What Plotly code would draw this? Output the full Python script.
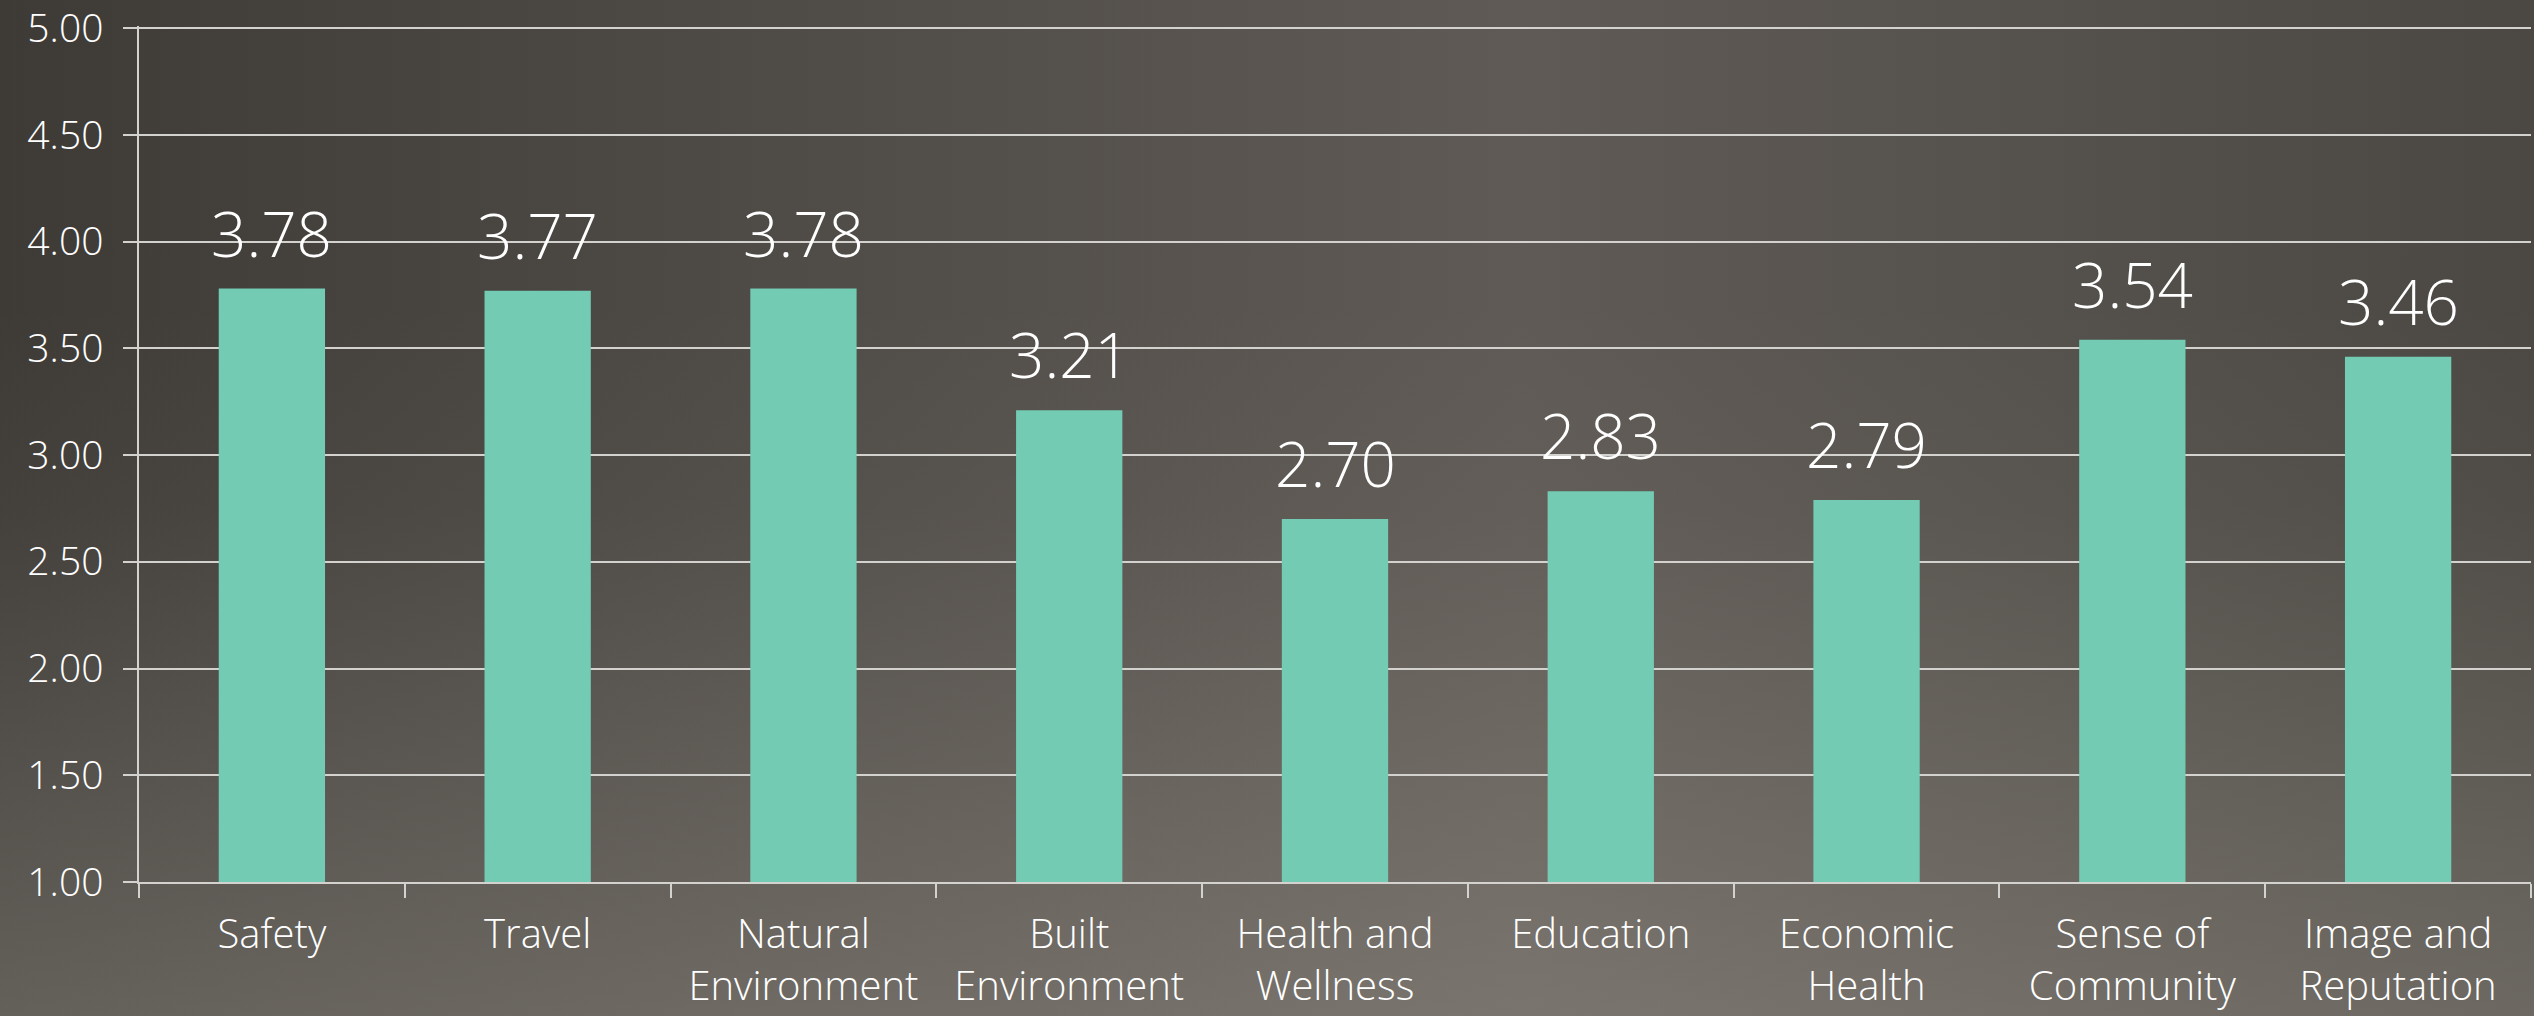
import plotly.graph_objects as go
import urllib.parse

categories = ["Safety", "Travel", "Natural<br>Environment", "Built<br>Environment",
              "Health and<br>Wellness", "Education", "Economic<br>Health",
              "Sense of<br>Community", "Image and<br>Reputation"]
scores = [3.78, 3.77, 3.78, 3.21, 2.70, 2.83, 2.79, 3.54, 3.46]
y_ticks = [1.0, 1.5, 2.0, 2.5, 3.0, 3.5, 4.0, 4.5, 5.0]

W, H = 2534, 1016
ML, MR, MT, MB = 139, 3, 26, 134
PW = W - ML - MR
PH = H - MT - MB

FONT = "Open Sans"
TXT = "#ffffff"
BAR = "#72cbb2"
GRID = "#d4d2cf"

svg = (
    '<svg xmlns="http://www.w3.org/2000/svg" width="2534" height="1016" '
    'viewBox="0 0 2534 1016" preserveAspectRatio="none">'
    '<defs>'
    '<linearGradient id="h" x1="0" y1="0" x2="1" y2="0">'
    '<stop offset="0" stop-color="#3e3b37"/>'
    '<stop offset="0.6" stop-color="#5f5a55"/>'
    '<stop offset="1" stop-color="#4b4843"/>'
    '</linearGradient>'
    '<linearGradient id="v" x1="0" y1="0" x2="0" y2="1">'
    '<stop offset="0" stop-color="#b0aaa0" stop-opacity="0"/>'
    '<stop offset="0.3" stop-color="#b0aaa0" stop-opacity="0"/>'
    '<stop offset="0.5" stop-color="#b0aaa0" stop-opacity="0.05"/>'
    '<stop offset="1" stop-color="#b0aaa0" stop-opacity="0.33"/>'
    '</linearGradient>'
    '</defs>'
    '<rect width="2534" height="1016" fill="url(#h)"/>'
    '<rect width="2534" height="1016" fill="url(#v)"/>'
    '</svg>'
)
bg_uri = "data:image/svg+xml;charset=utf-8," + urllib.parse.quote(svg)

fig = go.Figure()
fig.add_trace(go.Bar(
    x=categories, y=[s - 1 for s in scores], base=1,
    marker=dict(color=BAR, line=dict(width=0)),
    hoverinfo="skip",
))

for c, s in zip(categories, scores):
    fig.add_annotation(
        x=c, y=s, xref="x", yref="y",
        text=f"{s:.2f}", showarrow=False,
        xanchor="center", yanchor="bottom", yshift=12,
        font=dict(family=FONT, size=62, color=TXT, weight=300),
    )

fig.update_layout(
    width=W, height=H,
    margin=dict(l=ML, r=MR, t=MT, b=MB, pad=0, autoexpand=False),
    paper_bgcolor="#55514b",
    plot_bgcolor="rgba(0,0,0,0)",
    bargap=0.6,
    showlegend=False,
    font=dict(family=FONT, color=TXT, weight=300),
    images=[dict(
        source=bg_uri, xref="paper", yref="paper",
        x=-ML / PW, y=1 + MT / PH, sizex=W / PW, sizey=H / PH,
        xanchor="left", yanchor="top", sizing="stretch", layer="below",
    )],
)

fig.update_xaxes(
    type="category",
    automargin=False,
    showgrid=False,
    showline=True, linecolor=GRID, linewidth=2,
    ticks="outside", tickson="boundaries", ticklen=14, tickwidth=1.5, tickcolor=GRID,
    tickfont=dict(family=FONT, size=40, color=TXT, weight=300),
    ticklabelstandoff=16,
    ticklabeloverflow="allow",
    zeroline=False,
)
fig.update_yaxes(
    range=[1, 5.01],
    automargin=False,
    tickvals=y_ticks,
    ticktext=[f"{v:.2f}" for v in y_ticks],
    showgrid=True, gridcolor=GRID, gridwidth=1.5,
    showline=True, linecolor=GRID, linewidth=1.5,
    ticks="outside", ticklen=14, tickwidth=1.5, tickcolor=GRID,
    tickfont=dict(family=FONT, size=39, color=TXT, weight=300),
    ticklabelstandoff=12,
    ticklabeloverflow="allow",
    zeroline=False,
)

fig.write_html(
    "out.html",
    config={"displayModeBar": False},
    post_script="document.body.style.margin='0';document.body.style.overflow='hidden';",
)
